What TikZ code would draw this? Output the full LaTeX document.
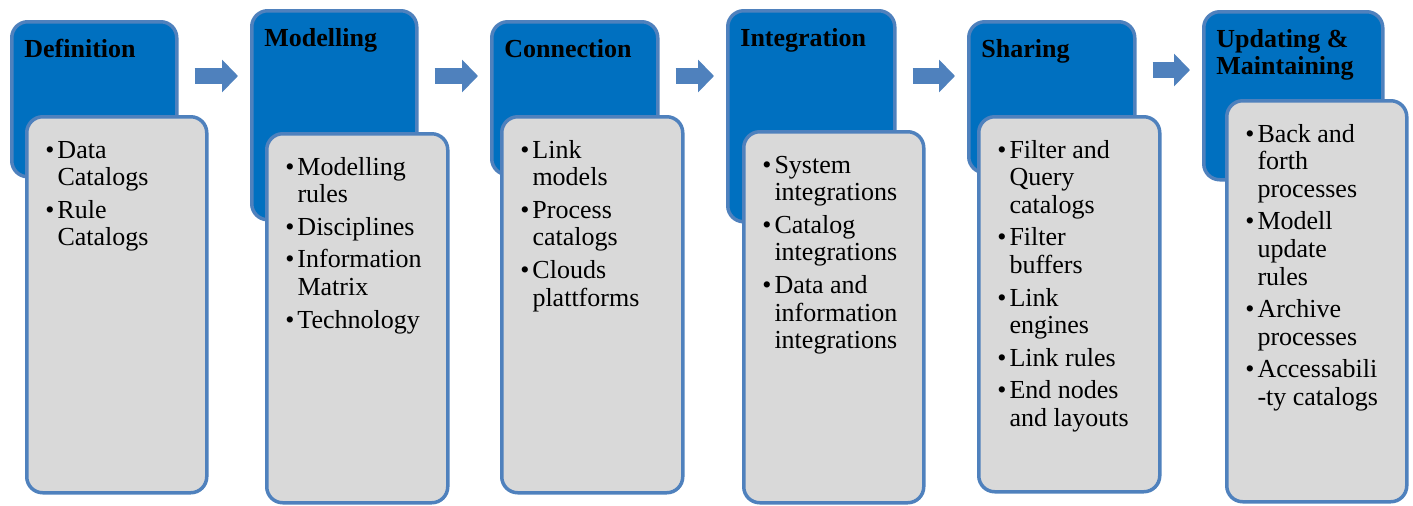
\documentclass[tikz,border=0pt]{standalone}
\usepackage{fontspec}
\setmainfont{Liberation Serif}
\usetikzlibrary{arrows.meta, calc}

\definecolor{headblue}{RGB}{0,112,192}
\definecolor{frameblue}{RGB}{79,129,189}
\definecolor{bodygray}{RGB}{217,217,217}

\newcommand{\steplist}[1]{\begin{tabular}[t]{@{}l@{\hspace{1.5pt}}l@{}}#1\end{tabular}}
\newcommand{\headlines}[1]{\begin{tabular}[t]{@{}l@{}}#1\end{tabular}}

\begin{document}
\begin{tikzpicture}[x=0.5pt, y=-0.5pt,
    head/.style={draw=frameblue, line width=1.75pt, fill=headblue, rounded corners=8pt, anchor=north west, inner sep=0pt},
    body/.style={draw=frameblue, line width=1.75pt, fill=bodygray, rounded corners=8pt, anchor=north west, inner sep=0pt},
    htext/.style={anchor=base west, inner sep=0pt, xshift=7pt, yshift=-18.5pt, font=\fontsize{13}{13.6}\selectfont\bfseries},
    btext/.style={anchor=base west, inner sep=0pt, xshift=10pt, yshift=-21.5pt, font=\fontsize{13}{13.8}\selectfont},
    flow/.style={draw=frameblue, line width=8pt, -{Triangle[length=8pt, width=16pt]}}]
    \useasboundingbox (0,0) rectangle (1413,505);

    \node (h1) [head, minimum width=82.5pt, minimum height=77.5pt, label={[htext]north west:Definition}] at (10,20) {};
    \node (b1) [body, minimum width=90pt, minimum height=188pt, label={[btext]north west:{\steplist{\textbullet & Data\\ & Catalogs\\[2.5pt] \textbullet & Rule\\ & Catalogs}}}] at (25,115) {};

    \node (h2) [head, minimum width=82.5pt, minimum height=104.5pt, label={[htext]north west:Modelling}] at (250,9) {};
    \node (b2) [body, minimum width=90.5pt, minimum height=184.5pt, label={[btext]north west:{\steplist{\textbullet & Modelling\\ & rules\\[2.5pt] \textbullet & Disciplines\\[2.5pt] \textbullet & Information\\ & Matrix\\[2.5pt] \textbullet & Technology}}}] at (265,132) {};

    \node (h3) [head, minimum width=83pt, minimum height=76.5pt, label={[htext]north west:Connection}] at (490,20) {};
    \node (b3) [body, minimum width=90.5pt, minimum height=188pt, label={[btext]north west:{\steplist{\textbullet & Link\\ & models\\[2.5pt] \textbullet & Process\\ & catalogs\\[2.5pt] \textbullet & Clouds\\ & plattforms}}}] at (500,115) {};

    \node (h4) [head, minimum width=83.5pt, minimum height=105.5pt, label={[htext]north west:Integration}] at (726,9) {};
    \node (b4) [body, minimum width=90pt, minimum height=185.5pt, label={[btext]north west:{\steplist{\textbullet & System\\ & integrations\\[2.5pt] \textbullet & Catalog\\ & integrations\\[2.5pt] \textbullet & Data and\\ & information\\ & integrations}}}] at (742,130) {};

    \node (h5) [head, minimum width=83pt, minimum height=75.5pt, label={[htext]north west:Sharing}] at (967,20) {};
    \node (b5) [body, minimum width=90.5pt, minimum height=187.5pt, label={[btext]north west:{\steplist{\textbullet & Filter and\\ & Query\\ & catalogs\\[2.5pt] \textbullet & Filter\\ & buffers\\[2.5pt] \textbullet & Link\\ & engines\\[2.5pt] \textbullet & Link rules\\[2.5pt] \textbullet & End nodes\\ & and layouts}}}] at (977,115) {};

    \node (h6) [head, minimum width=89.5pt, minimum height=84pt, label={[htext]north west:{\headlines{Updating \&\\ Maintaining}}}] at (1202,10) {};
    \node (b6) [body, minimum width=90pt, minimum height=200.5pt, label={[btext]north west:{\steplist{\textbullet & Back and\\ & forth\\ & processes\\[2.5pt] \textbullet & Modell\\ & update\\ & rules\\[2.5pt] \textbullet & Archive\\ & processes\\[2.5pt] \textbullet & Accessabili\\ & -ty catalogs}}}] at (1225,99) {};

    % arrow levels
    \coordinate (lvl) at (0,76);
    \coordinate (lvl5) at (0,70);

    \draw [flow] ($(h1.east |- lvl)+(8pt,0)$) -- ($(h2.west |- lvl)+(-6pt,0)$);
    \draw [flow] ($(h2.east |- lvl)+(8pt,0)$) -- ($(h3.west |- lvl)+(-6pt,0)$);
    \draw [flow] ($(h3.east |- lvl)+(8pt,0)$) -- ($(h4.west |- lvl)+(-6pt,0)$);
    \draw [flow] ($(h4.east |- lvl)+(8pt,0)$) -- ($(h5.west |- lvl)+(-6pt,0)$);
    \draw [flow] ($(h5.east |- lvl5)+(8pt,0)$) -- ($(h6.west |- lvl5)+(-6pt,0)$);
\end{tikzpicture}
\end{document}
